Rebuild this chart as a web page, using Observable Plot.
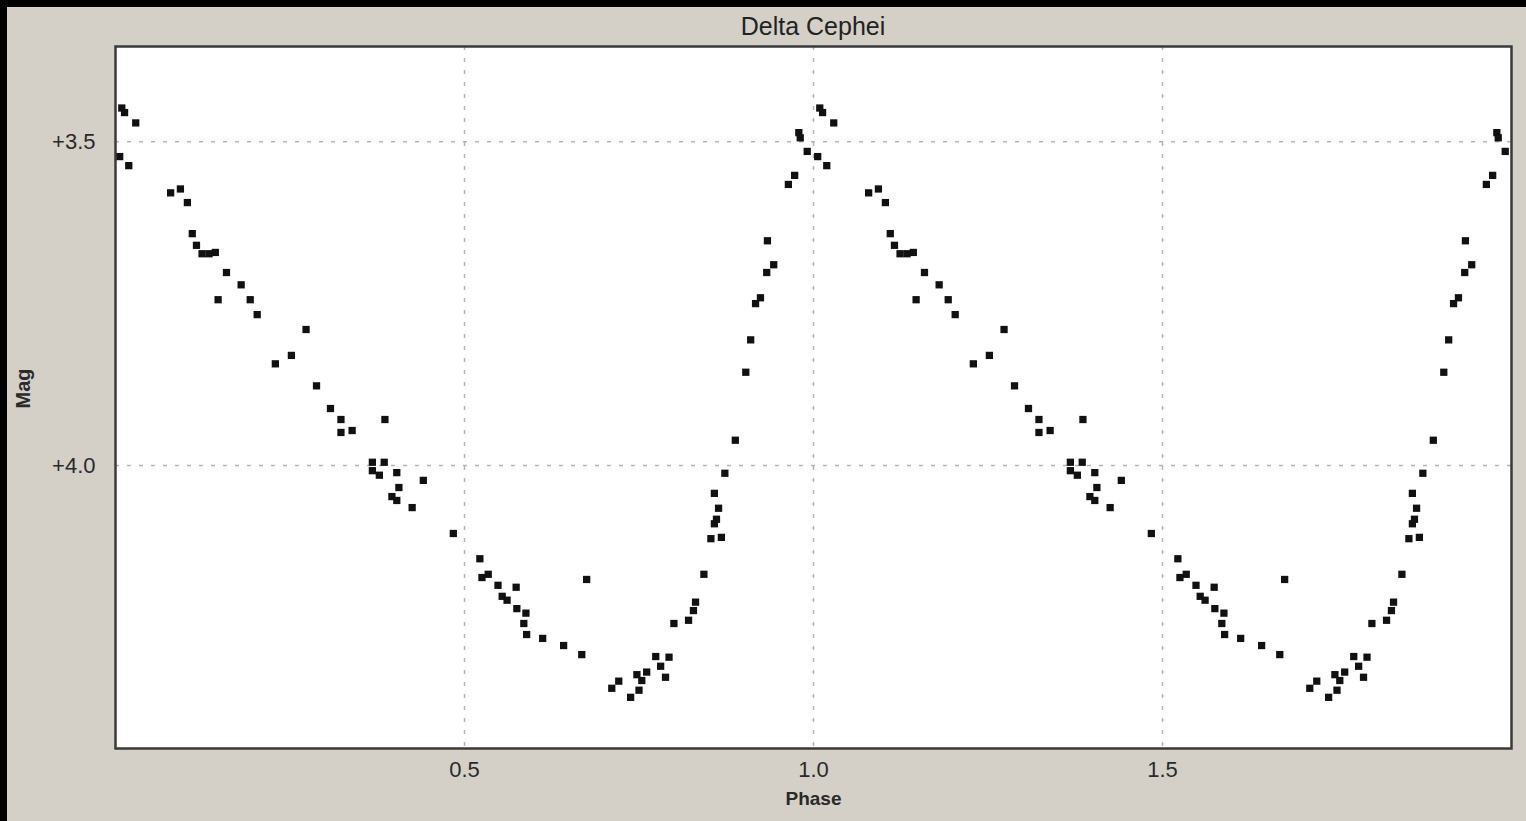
<!DOCTYPE html>
<html>
<head>
<meta charset="utf-8">
<script src="https://cdn.jsdelivr.net/npm/d3@7"></script>
<script src="https://cdn.jsdelivr.net/npm/@observablehq/plot@0.6"></script>
<style>
  html, body { margin: 0; padding: 0; background: #000; width: 1526px; height: 821px; overflow: hidden; }
  #panel { position: absolute; left: 7px; top: 7px; width: 1519px; height: 814px; background: #d4d0c8; }
  #title { position: absolute; left: 663px; top: 12px; width: 300px; text-align: center;
           font-family: "Liberation Sans", Arial, sans-serif; font-size: 25px; line-height: 28px; color: #222; }
  #chart { position: absolute; left: 0; top: 40px; }
</style>
</head>
<body>
<div id="panel"></div>
<div id="title">Delta Cephei</div>
<div id="chart"></div>
<script>
const phases = [
  0.009, 0.013, 0.029, 0.006, 0.019, 0.079, 0.093, 0.103, 0.110, 0.116,
  0.124, 0.134, 0.143, 0.159, 0.180, 0.147, 0.193, 0.203, 0.273, 0.252,
  0.229, 0.288, 0.308, 0.323, 0.323, 0.339, 0.386, 0.368, 0.385, 0.368,
  0.378, 0.403, 0.406, 0.396, 0.403, 0.441, 0.425, 0.484, 0.522, 0.525,
  0.534, 0.548, 0.574, 0.554, 0.561, 0.575, 0.588, 0.585, 0.589, 0.612,
  0.642, 0.668, 0.675, 0.711, 0.721, 0.738, 0.750, 0.747, 0.761, 0.754,
  0.774, 0.793, 0.781, 0.788, 0.800, 0.821, 0.828, 0.831, 0.843, 0.853,
  0.868, 0.858, 0.861, 0.864, 0.858, 0.873, 0.888, 0.903, 0.910, 0.917,
  0.924, 0.933, 0.943, 0.934, 0.964, 0.973, 0.979, 0.981, 0.991
];
const mags = [
  3.448, 3.455, 3.471, 3.523, 3.537, 3.579, 3.573, 3.594, 3.642, 3.660,
  3.673, 3.673, 3.671, 3.702, 3.721, 3.744, 3.744, 3.767, 3.790, 3.830,
  3.843, 3.877, 3.912, 3.929, 3.949, 3.946, 3.929, 3.995, 3.995, 4.008,
  4.015, 4.011, 4.034, 4.048, 4.054, 4.023, 4.065, 4.105, 4.144, 4.173,
  4.168, 4.185, 4.188, 4.202, 4.208, 4.221, 4.228, 4.244, 4.261, 4.267,
  4.278, 4.292, 4.176, 4.344, 4.333, 4.358, 4.347, 4.323, 4.319, 4.332,
  4.295, 4.296, 4.310, 4.327, 4.244, 4.239, 4.224, 4.211, 4.168, 4.113,
  4.111, 4.090, 4.083, 4.066, 4.043, 4.012, 3.961, 3.856, 3.806, 3.750,
  3.741, 3.702, 3.690, 3.653, 3.566, 3.552, 3.486, 3.494, 3.515
];
const cycles = [0, 1];            // the light curve is shown twice
const xTicks = [0.5, 1.0, 1.5];
const yTicks = [3.5, 4.0];
const xLabel = "Phase";
const yLabel = "Mag";

const table = cycles.flatMap(c => phases.map((p, i) => ({phase: p + c, mag: mags[i]})));

const font = "'Liberation Sans', Arial, sans-serif";
const chart = Plot.plot({
  width: 1526,
  height: 781,
  marginLeft: 115,
  marginRight: 15,
  marginTop: 6,
  marginBottom: 73,
  style: {background: "transparent", fontFamily: font, fontSize: "22px", color: "#2a2a2a", overflow: "visible"},
  x: {domain: [0, 2], ticks: xTicks, tickFormat: d3.format(".1f"), tickSize: 0, tickPadding: 13, label: null},
  y: {domain: [3.353, 4.437], reverse: true, ticks: yTicks, tickFormat: d => "+" + d.toFixed(1), tickSize: 0, tickPadding: 20, label: null},
  marks: [
    Plot.frame({fill: "white", stroke: null}),
    Plot.ruleX(xTicks, {stroke: "#b4b4b4", strokeWidth: 1.5, strokeDasharray: "4,8"}),
    Plot.ruleY(yTicks, {stroke: "#b4b4b4", strokeWidth: 1.5, strokeDasharray: "4,8"}),
    Plot.dot(table, {x: "phase", y: "mag", symbol: "square", r: 4.1, fill: "#111", stroke: null, clip: true}),
    Plot.frame({stroke: "#3a3a3a", strokeWidth: 2.5}),
    Plot.text([xLabel], {text: d => d, frameAnchor: "bottom", dy: 56, fontSize: 19, fontWeight: "bold", fill: "#2a2a2a"}),
    Plot.text([yLabel], {text: d => d, frameAnchor: "left", rotate: -90, dx: -92, dy: 11, fontSize: 20, fontWeight: "bold", fill: "#2a2a2a"})
  ]
});
document.getElementById("chart").appendChild(chart);
</script>
</body>
</html>
